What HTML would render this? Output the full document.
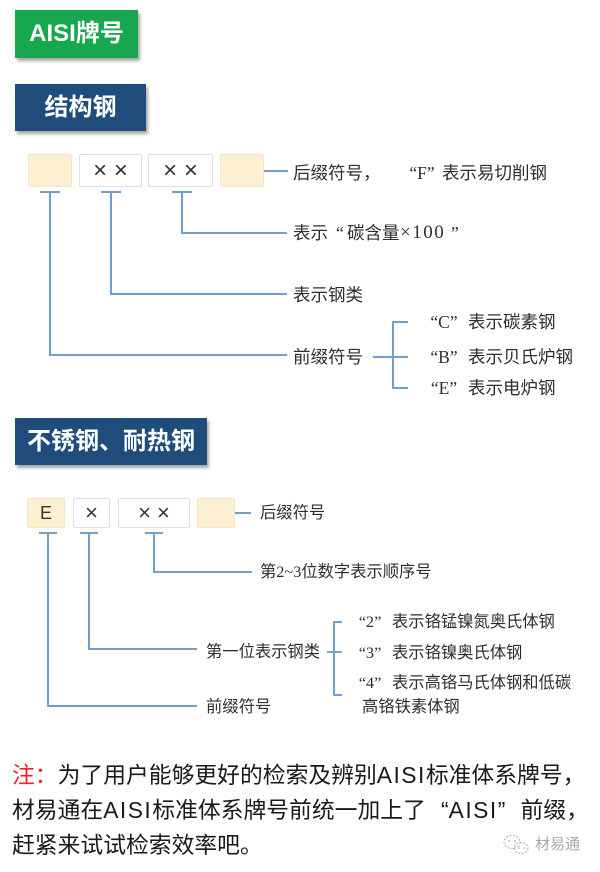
<!DOCTYPE html>
<html>
<head>
<meta charset="utf-8">
<style>
  html,body{margin:0;padding:0;}
  body{width:600px;height:872px;position:relative;background:#ffffff;overflow:hidden;
       font-family:"Liberation Sans","Noto Sans CJK SC",sans-serif;}
  .abs{position:absolute;}
  .hdr{position:absolute;color:#fff;font-weight:bold;font-size:24px;text-align:center;
       font-family:"Liberation Sans","Noto Sans CJK SC",sans-serif;
       box-shadow:2px 3px 3px rgba(0,0,0,0.35);}
  .box{position:absolute;box-sizing:border-box;border-radius:2px;text-align:center;
       font-family:"Liberation Sans","DejaVu Sans",sans-serif;color:#333;}
  .bg{background:#fdf0d0;border:1.5px solid #f2e4c4;}
  .wh{background:#fff;border:1.5px solid #dedede;}
  .t{position:absolute;white-space:nowrap;height:20px;line-height:20px;color:#2e2e2e;
     font-family:"Liberation Serif","Noto Sans CJK SC",serif;}
  .d1{font-size:17.5px;}
  .d2{font-size:16.3px;}
  .q{text-align:center;}
  .note{position:absolute;left:12px;white-space:nowrap;font-size:22.8px;height:34px;line-height:34px;color:#1a1a1a;
        font-family:"Liberation Sans","Noto Sans CJK SC",sans-serif;}
  .ai{letter-spacing:1.5px;}
  .fq{display:inline-block;width:1em;}
</style>
</head>
<body>

<!-- Headers -->
<div class="hdr" style="left:15px;top:10px;width:123px;height:48px;line-height:48px;background:#17a74f;">AISI牌号</div>
<div class="hdr" style="left:15px;top:84px;width:131px;height:47px;line-height:47px;background:#1f4c7a;">结构钢</div>
<div class="hdr" style="left:15px;top:418px;width:192px;height:47px;line-height:47px;background:#1f4c7a;text-align:left;padding-left:12px;box-sizing:border-box;">不锈钢、耐热钢</div>

<!-- Connectors -->
<svg class="abs" style="left:0;top:0" width="600" height="872" viewBox="0 0 600 872">
  <g stroke="#739fcb" stroke-width="2" fill="none" stroke-linecap="butt">
    <!-- diagram 1 -->
    <line x1="264" y1="171" x2="288" y2="171"/>
    <line x1="40" y1="192" x2="60" y2="192"/>
    <line x1="101" y1="192" x2="121" y2="192"/>
    <line x1="172" y1="192" x2="192" y2="192"/>
    <polyline points="50,192 50,355 287,355"/>
    <polyline points="111,192 111,294 287,294"/>
    <polyline points="182,192 182,233 287,233"/>
    <polyline points="408,322 393,322 393,388 408,388"/>
    <line x1="373" y1="357" x2="408" y2="357"/>
    <!-- diagram 2 -->
    <line x1="235" y1="513" x2="251" y2="513"/>
    <line x1="39" y1="533" x2="57" y2="533"/>
    <line x1="80" y1="533" x2="98" y2="533"/>
    <line x1="145" y1="533" x2="163" y2="533"/>
    <polyline points="48,533 48,706 197,706"/>
    <polyline points="89,533 89,649 197,649"/>
    <polyline points="154,533 154,572 252,572"/>
    <polyline points="342,622 334,622 334,695 342,695"/>
    <line x1="327" y1="652" x2="342" y2="652"/>
  </g>
  <!-- watermark icon -->
  <g stroke="#b5b5b5" stroke-width="1.2" fill="none" stroke-dasharray="2,1.5">
    <ellipse cx="512" cy="842" rx="8" ry="6.5"/>
    <ellipse cx="521" cy="848" rx="7" ry="5.5"/>
  </g>
  <g fill="#b5b5b5">
    <circle cx="509" cy="841" r="1"/><circle cx="515" cy="841" r="1"/>
    <circle cx="519" cy="848" r="0.9"/><circle cx="524" cy="848" r="0.9"/>
  </g>
</svg>

<!-- Diagram 1 boxes -->
<div class="box bg" style="left:28px;top:154px;width:44px;height:33px;"></div>
<div class="box wh" style="left:79px;top:154px;width:63px;height:33px;line-height:31px;font-size:24px;letter-spacing:0px;">× ×</div>
<div class="box wh" style="left:148px;top:154px;width:65px;height:33px;line-height:31px;font-size:24px;letter-spacing:0px;">× ×</div>
<div class="box bg" style="left:220px;top:154px;width:44px;height:33px;"></div>

<!-- Diagram 1 labels -->
<div class="t d1" style="left:293px;top:163px;">后缀符号，</div>
<div class="t d1 q" style="left:404px;top:163px;width:36px;">“F”</div>
<div class="t d1" style="left:442px;top:163px;">表示易切削钢</div>

<div class="t d1" style="left:293px;top:223px;">表示</div>
<div class="t d1" style="left:336px;top:223px;">“</div>
<div class="t d1" style="left:347px;top:223px;">碳含量</div>
<div class="t" style="left:400px;top:223px;font-size:19px;letter-spacing:1.5px;">×100</div>
<div class="t d1" style="left:451px;top:223px;">”</div>

<div class="t d1" style="left:293px;top:285px;">表示钢类</div>
<div class="t d1" style="left:293px;top:347px;">前缀符号</div>

<div class="t d1 q" style="left:425px;top:312px;width:38px;">“C”</div>
<div class="t d1" style="left:468px;top:312px;">表示碳素钢</div>
<div class="t d1 q" style="left:425px;top:347px;width:38px;">“B”</div>
<div class="t d1" style="left:468px;top:347px;">表示贝氏炉钢</div>
<div class="t d1 q" style="left:425px;top:378px;width:38px;">“E”</div>
<div class="t d1" style="left:468px;top:378px;">表示电炉钢</div>

<!-- Diagram 2 boxes -->
<div class="box bg" style="left:27px;top:498px;width:38px;height:30px;line-height:28px;font-size:18px;">E</div>
<div class="box wh" style="left:73px;top:498px;width:37px;height:30px;line-height:28px;font-size:22px;">×</div>
<div class="box wh" style="left:118px;top:498px;width:72px;height:30px;line-height:28px;font-size:22px;">× ×</div>
<div class="box bg" style="left:197px;top:498px;width:38px;height:30px;"></div>

<!-- Diagram 2 labels -->
<div class="t d2" style="left:260px;top:503px;">后缀符号</div>
<div class="t d2" style="left:260px;top:562px;">第2~3位数字表示顺序号</div>
<div class="t d2" style="left:206px;top:642px;">第一位表示钢类</div>
<div class="t d2" style="left:206px;top:697px;">前缀符号</div>

<div class="t d2 q" style="left:355px;top:612px;width:30px;">“2”</div>
<div class="t d2" style="left:392px;top:612px;">表示铬锰镍氮奥氏体钢</div>
<div class="t d2 q" style="left:355px;top:643px;width:30px;">“3”</div>
<div class="t d2" style="left:392px;top:643px;">表示铬镍奥氏体钢</div>
<div class="t d2 q" style="left:355px;top:673px;width:30px;">“4”</div>
<div class="t d2" style="left:392px;top:673px;">表示高铬马氏体钢和低碳</div>
<div class="t d2" style="left:362px;top:697px;">高铬铁素体钢</div>

<!-- Note -->
<div class="note" style="top:758px;"><span style="color:#e8262b;">注：</span>为了用户能够更好的检索及辨别<span class="ai">AISI</span>标准体系牌号，</div>
<div class="note" style="top:793px;">材易通在<span class="ai">AISI</span>标准体系牌号前统一加上了<span class="fq" style="text-align:right;">“</span><span class="ai">AISI</span><span class="fq" style="text-align:left;">”</span>前缀，</div>
<div class="note" style="top:828px;">赶紧来试试检索效率吧。</div>

<div class="abs" style="left:535px;top:835px;font-size:15px;line-height:20px;color:#a8a8a8;font-family:'Liberation Sans','Noto Sans CJK SC',sans-serif;">材易通</div>

</body>
</html>
